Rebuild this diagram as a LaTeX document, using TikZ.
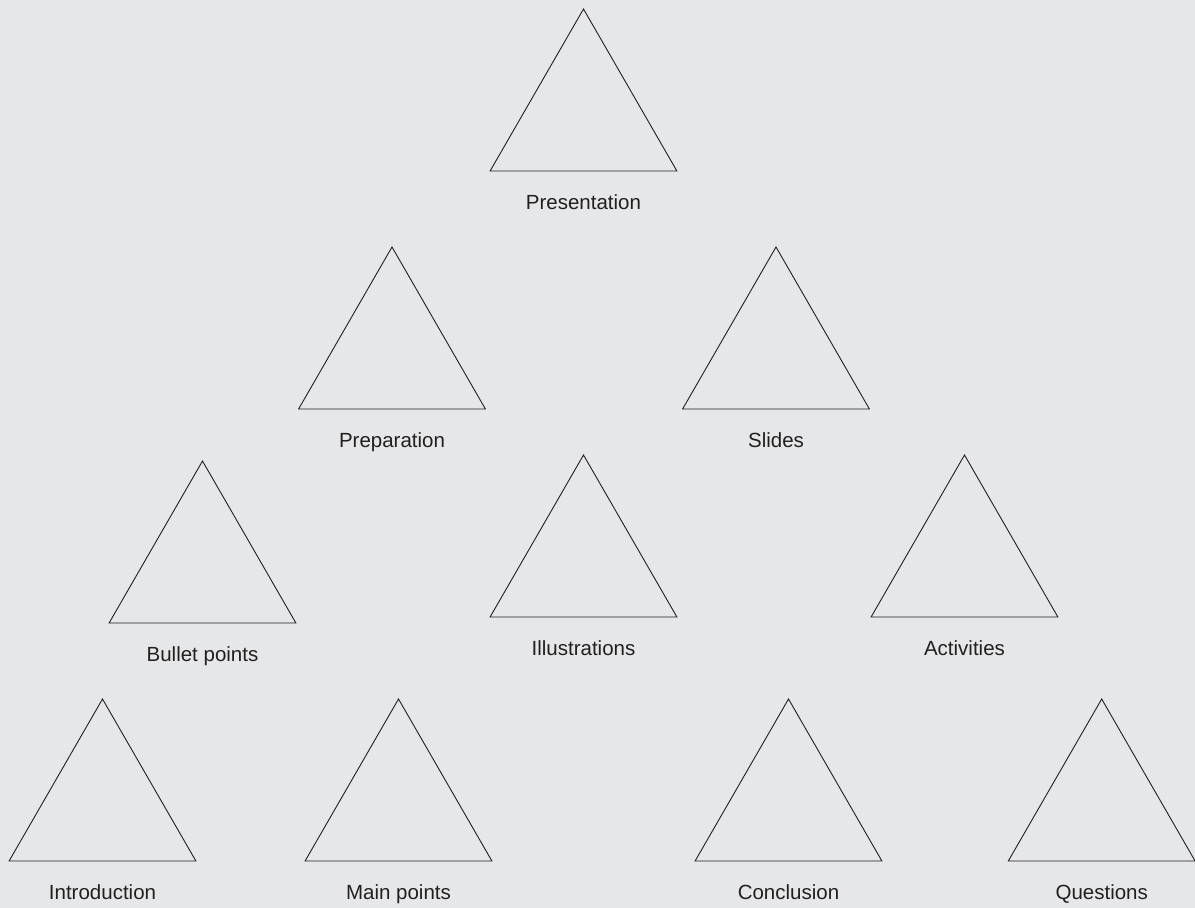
\documentclass[tikz,border=0pt]{standalone}
\usepackage{fontspec}
\setmainfont{Liberation Sans}
\definecolor{bg}{HTML}{E6E7E8}
\definecolor{ink}{HTML}{231F20}
\begin{document}
\begin{tikzpicture}[x=1pt,y=-1pt,
  tri/.style={draw=ink,line width=0.9pt,line join=miter},
  lbl/.style={text=ink,font=\fontsize{20.5}{24}\selectfont,anchor=base,inner sep=0pt}]
\fill[bg] (0,0) rectangle (1195,908);
\useasboundingbox (0,0) rectangle (1195,908);
\foreach \n/\x/\y/\t in {pres/583.5/171/Presentation,
  prep/392/409/Preparation,
  slid/776/409/Slides,
  bull/202.5/623/Bullet points,
  illu/583.5/617/Illustrations,
  acti/964.5/617/Activities,
  intr/102.5/861/Introduction,
  main/398.5/861/Main points,
  conc/788.5/861/Conclusion,
  ques/1101.7/861/Questions}{
  \coordinate (\n-l) at (\x-93.4,\y);
  \coordinate (\n-r) at (\x+93.4,\y);
  \coordinate (\n-t) at (\x,\y-162);
  \draw[tri] (\n-l) -- (\n-r) -- (\n-t) -- cycle;
  \node[lbl] (\n) at (\x,\y+38) {\t};
}
\end{tikzpicture}
\end{document}
